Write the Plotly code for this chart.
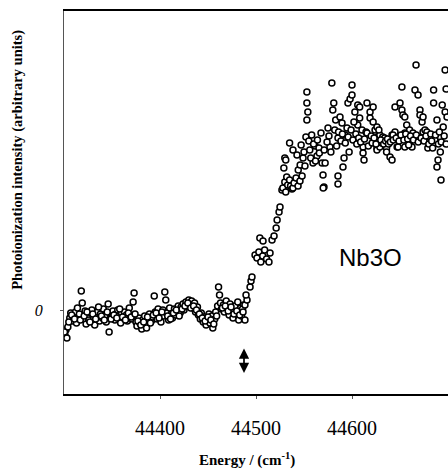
import plotly.graph_objects as go

# Threshold photoionization scan of Nb3O near the ionization onset,
# split into the flat region below threshold, the onset and the plateau.
baseline_energy = [
    44301, 44302, 44303, 44304, 44306, 44307, 44309, 44310, 44312, 44313,
    44315, 44316, 44318, 44319, 44320, 44322, 44323, 44325, 44326, 44328,
    44329, 44331, 44332, 44334, 44335, 44337, 44338, 44340, 44341, 44343,
    44344, 44346, 44347, 44348, 44350, 44351, 44353, 44354, 44356, 44357,
    44359, 44360, 44362, 44363, 44365, 44366, 44368, 44369, 44371, 44372,
    44373, 44375, 44376, 44378, 44379, 44381, 44382, 44384, 44385, 44386,
    44388, 44389, 44391, 44392, 44394, 44395, 44397, 44398, 44400, 44401,
    44403, 44404, 44405, 44406, 44407, 44409, 44410, 44412, 44413, 44415,
    44416, 44418, 44419, 44421, 44422, 44424, 44425, 44427, 44428, 44430,
    44431, 44433, 44434, 44436, 44437, 44439, 44440, 44442, 44443, 44445,
    44446, 44448, 44449, 44451, 44452, 44454, 44455, 44457, 44458, 44460,
    44461, 44462, 44463, 44464, 44466, 44467, 44469, 44470, 44472, 44473,
    44475, 44476, 44478, 44479, 44481, 44482, 44484, 44485, 44487,
    44300.5, 44305, 44308, 44311, 44314, 44317, 44321, 44324, 44327, 44330,
    44333, 44336, 44339, 44342, 44345, 44349, 44352, 44355, 44358, 44361,
    44364, 44367, 44370, 44374, 44377, 44380, 44383, 44387, 44390, 44393,
    44396, 44399, 44402, 44408, 44411, 44414, 44417, 44420, 44423, 44426,
    44429, 44432, 44435, 44438, 44441, 44444, 44447, 44450, 44453, 44456,
    44459, 44465, 44468, 44471, 44474, 44477, 44480, 44483, 44486,
]
baseline_intensity = [
    -0.25, -0.20, -0.28, -0.17, -0.08, -0.03, -0.11, -0.06, -0.02, -0.13,
    -0.07, -0.04, 0.19, 0.07, -0.09, -0.01, -0.14, -0.05, -0.10, -0.03,
    0.00, -0.08, -0.15, -0.06, -0.02, -0.11, -0.04, -0.08, 0.01, -0.05,
    -0.12, 0.06, -0.22, -0.03, -0.07, -0.01, -0.10, -0.04, 0.00, -0.06,
    -0.13, -0.03, -0.08, -0.02, -0.05, -0.11, 0.02, -0.06, -0.09, 0.08,
    0.17, -0.12, -0.16, -0.08, -0.13, -0.19, -0.10, -0.06, -0.14, -0.18,
    -0.09, -0.04, -0.11, -0.07, 0.14, -0.02, -0.09, 0.01, -0.05, -0.12,
    0.00, -0.06, 0.18, 0.10, -0.03, -0.10, 0.02, -0.04, -0.08, 0.01,
    -0.05, -0.01, 0.04, -0.03, 0.03, 0.06, 0.00, 0.08, 0.04, 0.10,
    0.05, 0.09, 0.02, 0.07, -0.02, 0.03, -0.05, -0.09, -0.03, -0.12,
    -0.07, -0.15, -0.10, -0.04, -0.13, -0.06, -0.18, -0.09, -0.02, 0.04,
    0.23, 0.15, 0.07, 0.01, 0.05, -0.02, 0.09, 0.03, -0.05, 0.06,
    0.00, -0.08, 0.04, -0.03, 0.08, -0.10, 0.02, -0.06, 0.05,
    -0.22, -0.12, -0.05, -0.09, 0.02, -0.10, -0.06, -0.02, -0.12, -0.04,
    -0.09, 0.03, -0.06, -0.10, -0.02, -0.09, -0.05, -0.08, 0.01, -0.07,
    -0.10, -0.03, -0.07, -0.04, -0.11, -0.15, -0.12, -0.07, -0.13, -0.05,
    -0.03, -0.08, -0.02, -0.06, -0.09, -0.03, 0.00, -0.06, 0.01, 0.04,
    0.07, 0.02, 0.04, 0.00, -0.04, -0.08, -0.11, -0.07, -0.10, -0.14,
    -0.06, 0.02, 0.04, -0.01, 0.03, -0.04, -0.01, -0.05, 0.01,
]

onset_energy_pts = [
    44488.5, 44486.5, 44488.5, 44490.6, 44489.6, 44493.8, 44494.8, 44495.8,
    44499, 44501, 44503, 44505, 44507, 44509, 44511, 44513.5, 44514.6,
    44504, 44507.3, 44516.7, 44518.8, 44521, 44522, 44524, 44525,
    44527, 44528, 44530, 44531, 44532, 44533, 44535, 44536, 44537.5, 44538.5,
    44539.6, 44541.7, 44543.8, 44545.8, 44548,
    44529, 44530, 44531, 44535, 44538.5, 44542.7, 44547, 44549,
    44544, 44546, 44550, 44551,
]
onset_intensity = [
    -0.10, -0.02, 0.05, 0.10, 0.15, 0.23, 0.29, 0.33,
    0.55, 0.52, 0.58, 0.48, 0.54, 0.60, 0.51, 0.48, 0.57,
    0.72, 0.69, 0.70, 0.74, 0.82, 0.90, 0.98, 1.03,
    1.20, 1.22, 1.28, 1.18, 1.33, 1.25, 1.30, 1.24, 1.21, 1.22,
    1.27, 1.32, 1.24, 1.29, 1.34,
    1.42, 1.52, 1.50, 1.67, 1.60, 1.55, 1.65, 1.52,
    1.40, 1.45, 1.58, 1.44,
]

plateau_energy = [
    44552, 44555, 44559.4, 44561.5, 44563.5, 44565.6, 44567.7, 44568.8,
    44569.8, 44570.8, 44570, 44572, 44553, 44553, 44554, 44553,
    44575, 44577, 44579, 44581, 44580, 44583, 44585.4, 44587.5, 44588.5,
    44589.6, 44590.6, 44591.7, 44585.4, 44585.4, 44592.7, 44594.8, 44595.8,
    44598, 44600, 44600, 44603, 44606, 44606, 44608, 44608, 44610.4,
    44611.5, 44611.5, 44612.5, 44614.6, 44615.6, 44615.6, 44618.8, 44618.8,
    44622, 44622, 44624, 44626, 44627, 44626, 44626, 44629, 44629, 44631,
    44632, 44634, 44636, 44636, 44639.6, 44641.7, 44641.7, 44644.8, 44642.7,
    44644.8, 44647, 44648, 44650, 44652, 44652, 44653, 44655, 44655, 44655,
    44657, 44660, 44660, 44660, 44662.5, 44663.5, 44665.6, 44666.7, 44668.8,
    44670.8, 44670.8, 44673, 44674, 44674, 44676, 44678, 44679, 44679,
    44681, 44685, 44685, 44686.5, 44688.5, 44688.5, 44689.6, 44692, 44692,
    44692.7, 44694, 44695, 44697, 44697, 44698, 44699,
    44556, 44558, 44560, 44564, 44566, 44571, 44574, 44576, 44578, 44582,
    44584, 44586, 44590, 44593, 44596, 44597, 44599, 44601, 44602, 44604,
    44605, 44607, 44609, 44613, 44617, 44620, 44621, 44623, 44625, 44628,
    44630, 44633, 44635, 44637, 44638, 44640, 44643, 44646, 44649, 44651,
    44654, 44656, 44658, 44659, 44661, 44664, 44667, 44669, 44672, 44675,
    44677, 44680, 44682, 44683, 44684, 44687, 44690, 44691, 44693, 44696,
    44698, 44557, 44562,
]
plateau_intensity = [
    1.73, 1.69, 1.47, 1.64, 1.54, 1.62, 1.77, 1.47,
    1.35, 1.23, 1.22, 1.47, 2.18, 2.07, 1.98, 1.90,
    1.82, 1.63, 2.27, 2.07, 2.00, 1.90, 1.72, 1.93, 1.69,
    1.87, 1.43, 1.52, 1.34, 1.26, 1.75, 1.82, 2.07,
    2.11, 2.15, 2.25, 1.98, 2.05, 1.85, 1.92, 2.03, 1.80,
    1.63, 1.57, 1.50, 1.78, 1.77, 2.07, 1.98, 1.92,
    2.03, 1.88, 1.80, 1.83, 1.73, 1.62, 1.60, 1.75, 1.63, 1.67,
    1.73, 1.72, 1.62, 1.58, 1.53, 1.50, 1.75, 1.78, 1.75,
    2.03, 1.63, 1.63, 2.07, 2.23, 2.00, 1.95, 1.93, 1.77, 1.63,
    1.85, 1.80, 1.73, 1.68, 1.63, 1.77, 2.20, 2.45, 2.15,
    2.00, 1.95, 1.88, 1.93, 1.78, 1.80, 1.78, 1.70, 1.62,
    1.73, 2.20, 2.07, 1.70, 1.90, 1.43, 1.50, 1.58, 1.73,
    1.30, 2.05, 1.83, 1.98, 2.40, 2.21, 1.93,
    1.60, 1.75, 1.66, 1.70, 1.57, 1.60, 1.68, 1.74, 1.58, 1.80,
    1.64, 1.78, 1.76, 1.67, 1.73, 1.58, 1.80, 1.70, 1.88, 1.76,
    1.66, 1.72, 1.68, 1.71, 1.64, 1.74, 1.67, 1.72, 1.66, 1.80,
    1.70, 1.66, 1.69, 1.71, 1.66, 1.68, 1.70, 1.72, 1.69, 1.75,
    1.70, 1.76, 1.71, 1.65, 1.74, 1.70, 1.75, 1.68, 1.72, 1.69,
    1.74, 1.66, 1.76, 1.69, 1.62, 1.75, 1.66, 1.78, 1.68, 1.74,
    1.66, 1.52, 1.49,
]

energy = baseline_energy + onset_energy_pts + plateau_energy
intensity = baseline_intensity + onset_intensity + plateau_intensity

x_ticks = [44400, 44500, 44600]
x_tick_text = ["44400", "44500", "44600"]
y_ticks = [0]
y_tick_text = ["0"]

threshold = 44487.5
arrow_span = [-0.37, -0.63]

serif = "Liberation Serif, Times New Roman, serif"

fig = go.Figure()
fig.add_trace(go.Scatter(
    x=energy, y=intensity, mode="markers",
    marker=dict(symbol="circle", size=6, color="white",
                line=dict(color="black", width=1.5)),
    showlegend=False, hoverinfo="skip",
))

# double-headed arrow marking the ionization threshold
fig.add_annotation(
    x=threshold, y=arrow_span[1], ax=threshold, ay=arrow_span[0],
    xref="x", yref="y", axref="x", ayref="y", text="",
    showarrow=True, arrowhead=2, arrowside="end+start",
    arrowsize=1.2, arrowwidth=1.7, arrowcolor="black",
)

fig.add_annotation(
    x=44619, y=0.53, xref="x", yref="y", text="Nb3O", showarrow=False,
    font=dict(family="Liberation Sans, Arial, sans-serif", size=24, color="black"),
)

fig.add_annotation(
    x=0.4766, y=-0.201, xref="paper", yref="paper",
    text="<b>Energy / (cm<sup>-1</sup>)</b>", showarrow=False,
    xanchor="center", yanchor="bottom",
    font=dict(family=serif, size=15, color="black"),
)
fig.add_annotation(
    x=-0.122, y=0.612, xref="paper", yref="paper",
    text="<b>Photoionization intensity (arbitrary units)</b>", showarrow=False,
    textangle=-90, xanchor="center", yanchor="middle",
    font=dict(family=serif, size=14.5, color="black"),
)

fig.update_layout(
    template="none",
    width=448, height=472,
    margin=dict(l=64, r=0, t=11, b=78),
    plot_bgcolor="white", paper_bgcolor="white",
    font=dict(family=serif, color="black"),
    xaxis=dict(
        range=[44300, 44700], tickvals=x_ticks, ticktext=x_tick_text,
        showgrid=False, zeroline=False,
        showline=True, linecolor="black", linewidth=1.5, mirror=True,
        ticks="outside", ticklen=3, tickcolor="#555", tickwidth=1,
        ticklabelstandoff=12,
        tickfont=dict(family=serif, size=20, color="black"),
    ),
    yaxis=dict(
        range=[-0.84, 2.99], tickvals=y_ticks, ticktext=y_tick_text,
        showgrid=False, zeroline=False,
        showline=True, linecolor="#555", linewidth=1,
        ticks="outside", ticklen=3, tickcolor="#555", tickwidth=1,
        ticklabelstandoff=14,
        tickfont=dict(family=serif, size=16, color="black", style="italic"),
    ),
)

fig.write_html("out.html")
